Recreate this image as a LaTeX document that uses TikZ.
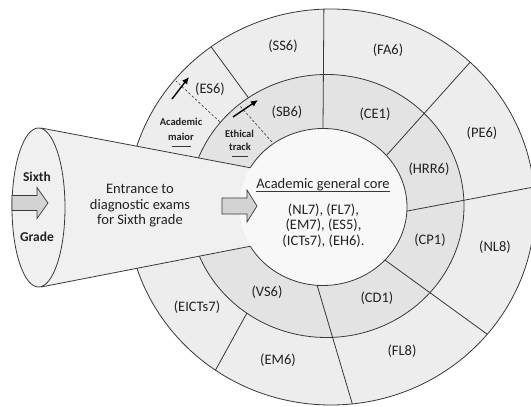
\documentclass[tikz,border=0pt]{standalone}
\usepackage{fontspec}
\setmainfont{Carlito}
\usetikzlibrary{calc,arrows.meta}
\definecolor{outerfill}{HTML}{EDEDED}
\definecolor{midfill}{HTML}{E3E3E3}
\definecolor{corefill}{HTML}{F8F8F8}
\definecolor{pipefill}{HTML}{F0F0F0}
\definecolor{blockfill}{HTML}{D3D3D3}
\definecolor{edgeclr}{HTML}{383838}
\definecolor{txtclr}{HTML}{222222}

\begin{document}
\begin{tikzpicture}[x=1pt,y=1pt,
  edge/.style={draw=edgeclr,line width=0.8pt},
  lbl/.style={text=txtclr,font=\fontsize{14.5}{15.5}\selectfont,inner sep=0pt},
  tag/.style={text=txtclr,font=\fontsize{10.5}{12}\selectfont\bfseries,inner sep=0pt},
  grade/.style={text=txtclr,font=\fontsize{13.5}{15}\selectfont\bfseries,inner sep=0pt},
  bigarrow/.style={draw=edgeclr,line width=0.7pt,fill=blockfill},
  track/.style={black,line width=1.4pt,-{Latex[length=7pt,width=6.5pt]}},
  guide/.style={edgeclr,line width=0.6pt,dash pattern=on 2.5pt off 2pt}]
\clip (0,0) rectangle (531,407);
\coordinate (oc) at (331,200);
\coordinate (mc) at (326.5,201);
\coordinate (ic) at (323,200);

% rings
\path[edge,fill=outerfill] (oc) ellipse [x radius=204,y radius=198];
\path[edge,fill=midfill] (mc) ellipse [x radius=137.5,y radius=131.5];
\fill[corefill] (ic) ellipse [x radius=84,y radius=78.5];

% dividers
\draw[edge] ($(oc)+(92:204 and 198)$) -- ($(ic)+(90:84 and 78.5)$);
\draw[edge] ($(oc)+(47:204 and 198)$) -- ($(ic)+(41:84 and 78.5)$);
\draw[edge] ($(oc)+(5.8:204 and 198)$) -- ($(ic)+(-3:84 and 78.5)$);
\draw[edge] ($(oc)+(-40:204 and 198)$) -- ($(ic)+(-42.5:84 and 78.5)$);
\draw[edge] ($(oc)+(-84:204 and 198)$) -- ($(ic)+(-94:84 and 78.5)$);
\draw[edge] ($(oc)+(-124.5:204 and 198)$) -- ($(mc)+(-125.4:137.5 and 131.5)$);
\draw[edge] ($(oc)+(126:204 and 198)$) -- ($(mc)+(124.6:137.5 and 131.5)$);
\draw[edge] ($(ic)+(150:84 and 78.5)$) arc[start angle=150,end angle=-150,x radius=84,y radius=78.5];

% entrance funnel
\coordinate (ftop) at (41,279);
\coordinate (fbot) at (41,120);
\coordinate (fin1) at ($(ic)+(150:84 and 78.5)$);
\coordinate (fin2) at ($(ic)+(210:84 and 78.5)$);
\fill[pipefill] (ftop) -- (fin1) arc[start angle=150,end angle=210,x radius=84,y radius=78.5] -- (fbot) -- cycle;
\draw[edge] (ftop) -- (fin1);
\draw[edge] (fbot) -- (fin2);
\path[edge,fill=pipefill] (38.5,199.5) ellipse [x radius=26.5,y radius=79.5];

\draw[bigarrow] (12,196.5) -- ++(25,0) -- ++(0,-8) -- ++(11,15.5) -- ++(-11,15.5) -- ++(0,-8) -- ++(-25,0) -- cycle;
\draw[bigarrow] (222,193) -- ++(25,0) -- ++(0,-8) -- ++(10,16) -- ++(-10,16) -- ++(0,-8) -- ++(-25,0) -- cycle;

\node[grade] (sixth) at (37,230) {Sixth};
\node[grade] (grade) at (37,170) {Grade};
\node[lbl,align=center] (entrance) at (140,201) {Entrance to\\diagnostic exams\\for Sixth grade};

% core
\node[lbl,anchor=base] (core) at (323,218.5) {Academic general core};
\draw[edgeclr,line width=0.6pt] ([yshift=-2.5pt]core.base west) -- ([yshift=-2.5pt]core.base east);
\node[lbl,align=center] (corelist) at (323.5,181.5) {(NL7), (FL7),\\(EM7), (ES5),\\(ICTs7), (EH6).};

% ring labels
\node[lbl] (ss6) at (283,361) {(SS6)};
\node[lbl] (fa6) at (388,357) {(FA6)};
\node[lbl] (es6) at (210,318) {(ES6)};
\node[lbl] (sb6) at (287,295) {(SB6)};
\node[lbl] (ce1) at (375,293) {(CE1)};
\node[lbl] (pe6) at (482,274) {(PE6)};
\node[lbl] (hrr6) at (429,238) {(HRR6)};
\node[lbl] (cp1) at (430,167) {(CP1)};
\node[lbl] (nl8) at (495,160) {(NL8)};
\node[lbl] (cd1) at (377,109) {(CD1)};
\node[lbl] (fl8) at (402,56) {(FL8)};
\node[lbl] (em6) at (278,47) {(EM6)};
\node[lbl] (vs6) at (267,115) {(VS6)};
\node[lbl] (eicts7) at (197,100) {(EICTs7)};

% tracks
\node[tag] (acad) at (181,285) {Academic};
\node[tag] (maior) at (181,270) {maior};
\draw[edgeclr,line width=0.7pt] ([yshift=-5pt]maior.south) ++(-9.5,0) -- ++(19,0);
\node[tag] (ethical) at (239.5,273) {Ethical};
\node[tag] (trk) at (240,260) {track};
\draw[edgeclr,line width=0.7pt] ([yshift=-5pt]trk.south) ++(-8,0) -- ++(16,0);

\coordinate (majtail) at (172,308);
\coordinate (majtip) at (189,330);
\coordinate (majfoot) at (220,285);
\coordinate (majend) at (176,326);
\draw[guide] (majfoot) -- (majend);
\draw[track] (majtail) -- (majtip);

\coordinate (ethtail) at (233,290);
\coordinate (ethtip) at (258,307);
\coordinate (ethfoot) at (272,265);
\coordinate (ethend) at (240,301);
\draw[guide] (ethfoot) -- (ethend);
\draw[track] (ethtail) -- (ethtip);
\end{tikzpicture}
\end{document}
